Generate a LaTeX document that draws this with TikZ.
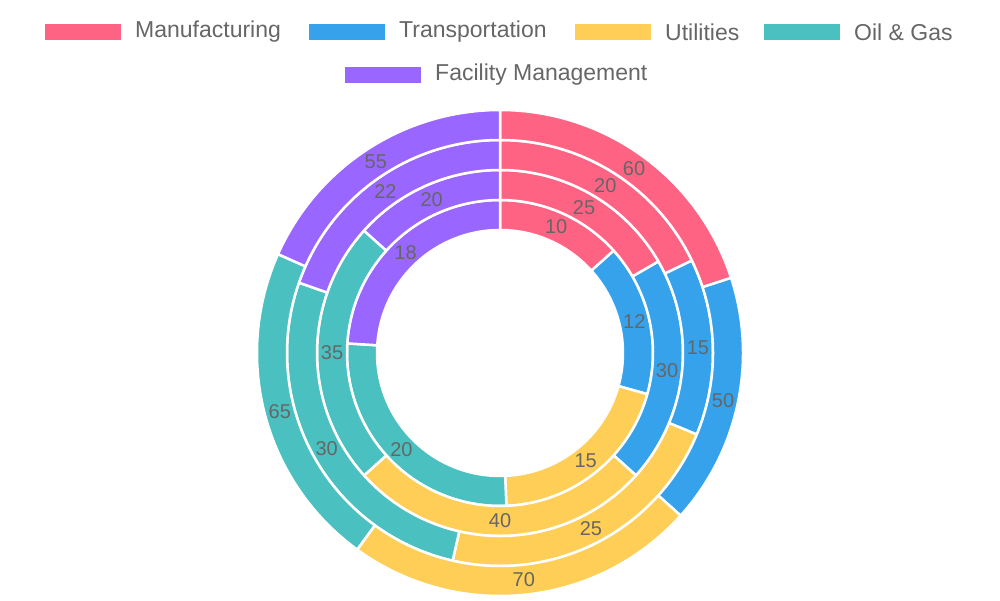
\documentclass[tikz,border=0pt]{standalone}
\usepackage{fontspec}
\setmainfont{Liberation Sans}
\definecolor{cA}{HTML}{FF6384}
\definecolor{cB}{HTML}{36A2EB}
\definecolor{cC}{HTML}{FFCE56}
\definecolor{cD}{HTML}{4BC0C0}
\definecolor{cE}{HTML}{9966FF}
\definecolor{txt}{HTML}{666666}
\begin{document}
\begin{tikzpicture}[x=1pt,y=1pt,
  seg/.style={line width=2.5pt,draw=white,line join=round},
  lab/.style={text=txt,font=\fontsize{20}{20}\selectfont,inner sep=0pt},
  leg/.style={text=txt,font=\fontsize{23}{23}\selectfont,anchor=west,inner sep=0pt},
  box/.style={minimum width=76pt,minimum height=16pt,inner sep=0pt,anchor=west}]
\useasboundingbox (0,0) rectangle (1000,600);
% legend
\node[box,fill=cA] (b1) at (45,568) {}; \node[leg] (l1) at (135,568) {Manufacturing};
\node[box,fill=cB] (b2) at (309,568) {}; \node[leg] (l2) at (399,568) {Transportation};
\node[box,fill=cC] (b3) at (575,568) {}; \node[leg] (l3) at (665,568) {Utilities};
\node[box,fill=cD] (b4) at (764,568) {}; \node[leg] (l4) at (854,568) {Oil \& Gas};
\node[box,fill=cE] (b5) at (345,525) {}; \node[leg] (l5) at (435,525) {Facility Management};
\begin{scope}[shift={(500,247)}]
\foreach \ri/\ro/\cums/\vals in {
  123/153/{0,48,105.6,177.6,273.6,360}/{10,12,15,20,18},
  153/183/{0,60,132,228,312,360}/{25,30,40,35,20},
  183/213/{0,64.2857,112.5,192.857,289.286,360}/{20,15,25,30,22},
  213/243/{0,72,132,216,294,360}/{60,50,70,65,55}}{
  \foreach \i/\c in {1/cA,2/cB,3/cC,4/cD,5/cE}{
    \pgfmathsetmacro\sa{90-{\cums}[\i-1]}
    \pgfmathsetmacro\ea{90-{\cums}[\i]}
    \pgfmathsetmacro\ma{(\sa+\ea)/2}
    \pgfmathsetmacro\mr{(\ri+\ro)/2}
    \pgfmathtruncatemacro\v{{\vals}[\i-1]}
    \filldraw[seg,fill=\c] (\sa:\ro) arc[start angle=\sa,end angle=\ea,radius=\ro]
      -- (\ea:\ri) arc[start angle=\ea,end angle=\sa,radius=\ri] -- cycle;
    \node[lab] at (\ma:\mr) {\v};
  }
}
\end{scope}
\end{tikzpicture}
\end{document}
